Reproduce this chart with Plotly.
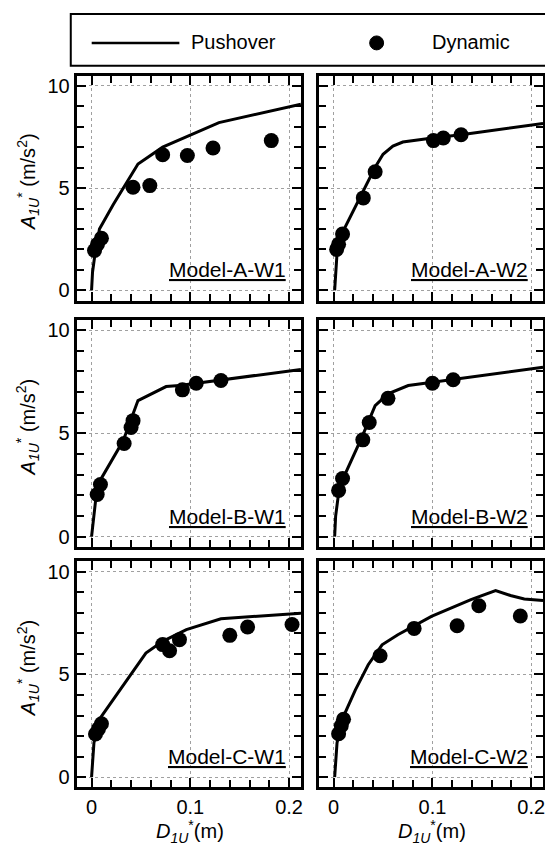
import plotly.graph_objects as go

# ---------------- data ----------------
panel_names = ["Model-A-W1", "Model-A-W2", "Model-B-W1", "Model-B-W2", "Model-C-W1", "Model-C-W2"]

aw1_push_x = [0, 0.001, 0.003, 0.008, 0.022, 0.035, 0.047, 0.072, 0.1, 0.129, 0.212]
aw1_push_y = [0, 0.9, 1.6, 3.0, 4.2, 5.25, 6.18, 7.0, 7.6, 8.2, 9.1]
aw1_dyn_x = [0.003, 0.006, 0.010, 0.042, 0.059, 0.072, 0.097, 0.123, 0.182]
aw1_dyn_y = [1.95, 2.25, 2.55, 5.04, 5.12, 6.63, 6.59, 6.96, 7.32]

aw2_push_x = [0.001, 0.002, 0.0034, 0.010, 0.0285, 0.042, 0.05, 0.06, 0.07, 0.079, 0.1, 0.129, 0.212]
aw2_push_y = [0, 0.9, 1.8, 2.93, 4.72, 6.02, 6.65, 7.05, 7.25, 7.32, 7.45, 7.61, 8.16]
aw2_dyn_x = [0.003, 0.005, 0.009, 0.030, 0.042, 0.101, 0.111, 0.129]
aw2_dyn_y = [2.0, 2.25, 2.75, 4.52, 5.8, 7.32, 7.45, 7.61]

bw1_push_x = [0, 0.002, 0.0044, 0.0084, 0.032, 0.047, 0.0755, 0.089, 0.212]
bw1_push_y = [0, 1.0, 1.88, 2.7, 4.64, 6.59, 7.27, 7.32, 8.1]
bw1_dyn_x = [0.0057, 0.009, 0.033, 0.040, 0.042, 0.092, 0.106, 0.131]
bw1_dyn_y = [2.04, 2.53, 4.51, 5.29, 5.62, 7.11, 7.43, 7.56]

bw2_push_x = [0.001, 0.002, 0.0044, 0.010, 0.0285, 0.042, 0.055, 0.0755, 0.1, 0.212]
bw2_push_y = [0, 1.0, 1.88, 2.86, 4.81, 6.35, 6.92, 7.32, 7.48, 8.21]
bw2_dyn_x = [0.005, 0.009, 0.0295, 0.036, 0.055, 0.1, 0.121]
bw2_dyn_y = [2.24, 2.82, 4.69, 5.53, 6.70, 7.43, 7.60]

cw1_push_x = [0, 0.001, 0.0024, 0.0075, 0.055, 0.072, 0.096, 0.131, 0.212]
cw1_push_y = [0, 0.9, 1.66, 2.79, 6.04, 6.61, 7.18, 7.71, 7.97]
cw1_dyn_x = [0.004, 0.007, 0.010, 0.072, 0.079, 0.089, 0.140, 0.158, 0.203]
cw1_dyn_y = [2.1, 2.35, 2.6, 6.45, 6.15, 6.69, 6.90, 7.31, 7.43]

cw2_push_x = [0.001, 0.002, 0.0034, 0.0084, 0.022, 0.035, 0.049, 0.065, 0.099, 0.139, 0.164, 0.179, 0.193, 0.212]
cw2_push_y = [0, 0.9, 1.66, 2.79, 4.25, 5.47, 6.44, 6.93, 7.82, 8.64, 9.08, 8.84, 8.67, 8.6]
cw2_dyn_x = [0.005, 0.0077, 0.010, 0.047, 0.0815, 0.125, 0.147, 0.189]
cw2_dyn_y = [2.11, 2.5, 2.82, 5.91, 7.24, 7.37, 8.34, 7.84]

x_tick_vals = [0, 0.1, 0.2]
x_tick_text = ["0", "0.1", "0.2"]
y_tick_vals = [0, 5, 10]
y_tick_text = ["0", "5", "10"]

push_series = [(aw1_push_x, aw1_push_y), (aw2_push_x, aw2_push_y), (bw1_push_x, bw1_push_y),
               (bw2_push_x, bw2_push_y), (cw1_push_x, cw1_push_y), (cw2_push_x, cw2_push_y)]
dyn_series = [(aw1_dyn_x, aw1_dyn_y), (aw2_dyn_x, aw2_dyn_y), (bw1_dyn_x, bw1_dyn_y),
              (bw2_dyn_x, bw2_dyn_y), (cw1_dyn_x, cw1_dyn_y), (cw2_dyn_x, cw2_dyn_y)]

# ---------------- layout ----------------
OFF = 8  # page body margin
W, H = 553 - OFF, 845 - OFF
FONT = "Liberation Sans, Arial, sans-serif"


def px_x(v):
    return (v - OFF) / W


def px_y(v):
    return 1 - (v - OFF) / H


col_px = [(77, 302), (320, 545)]
row_px = [(74.75, 300.25), (319.6, 547.3), (561.7, 788.3)]

fig = go.Figure()
layout = dict(
    width=W, height=H, margin=dict(l=0, r=0, t=0, b=0),
    paper_bgcolor="white", plot_bgcolor="white",
    font=dict(family=FONT, size=20, color="black"),
    showlegend=False,
)

annotations = []
shapes = []

for i in range(6):
    r, c = divmod(i, 2)
    n = i + 1
    xa = "xaxis" if n == 1 else f"xaxis{n}"
    ya = "yaxis" if n == 1 else f"yaxis{n}"
    xr = "x" if n == 1 else f"x{n}"
    yr = "y" if n == 1 else f"y{n}"
    x0, x1 = col_px[c]
    t, b = row_px[r]
    common = dict(
        showline=True, linecolor="black", linewidth=3, mirror="allticks",
        ticks="inside", tickcolor="black", tickwidth=2, ticklen=9,
        showgrid=True, gridcolor="#a0a0a0", gridwidth=1, griddash="dot",
        zeroline=False, tickfont=dict(family=FONT, size=20, color="black"),
    )
    layout[xa] = dict(
        common, domain=[px_x(x0), px_x(x1)], anchor=yr, range=[-0.015, 0.212],
        tickmode="array", tickvals=x_tick_vals, ticktext=x_tick_text,
        showticklabels=(r == 2),
        minor=dict(dtick=0.02, tick0=0, ticks="inside", ticklen=7, tickwidth=2,
                   tickcolor="black", showgrid=False),
    )
    layout[ya] = dict(
        common, domain=[px_y(b), px_y(t)], anchor=xr, range=[-0.5, 10.5],
        tickmode="array", tickvals=y_tick_vals, ticktext=y_tick_text,
        showticklabels=(c == 0),
        minor=dict(dtick=1, tick0=0, ticks="inside", ticklen=7, tickwidth=2,
                   tickcolor="black", showgrid=False),
    )
    px_, py_ = push_series[i]
    dx_, dy_ = dyn_series[i]
    fig.add_trace(go.Scatter(x=px_, y=py_, mode="lines", name="Pushover",
                             line=dict(color="black", width=3), xaxis=xr, yaxis=yr))
    fig.add_trace(go.Scatter(x=dx_, y=dy_, mode="markers", name="Dynamic",
                             marker=dict(color="black", size=15), xaxis=xr, yaxis=yr))
    annotations.append(dict(
        x=0.199, y=1.0, xref=xr, yref=yr, xanchor="right", yanchor="middle",
        text=f"<u>{panel_names[i]}</u>", showarrow=False,
        font=dict(family=FONT, size=21, color="black"),
    ))
    if c == 0:
        annotations.append(dict(
            x=px_x(28), y=px_y((t + b) / 2 - 7), xref="paper", yref="paper",
            xanchor="center", yanchor="middle", textangle=-90,
            text="<i>A</i><sub><i>1U</i></sub><sup>*</sup> (m/s<sup>2</sup>)",
            showarrow=False, font=dict(family=FONT, size=20, color="black"),
        ))
    if r == 2:
        annotations.append(dict(
            x=0.1, y=px_y(832), xref=xr, yref="paper",
            xanchor="center", yanchor="middle",
            text="<i>D</i><sub><i>1U</i></sub><sup>*</sup>(m)",
            showarrow=False, font=dict(family=FONT, size=20, color="black"),
        ))

# legend box drawn manually
shapes.append(dict(type="rect", xref="paper", yref="paper",
                   x0=px_x(71), x1=px_x(565), y0=px_y(65), y1=px_y(13),
                   line=dict(color="black", width=2), fillcolor="rgba(0,0,0,0)"))
shapes.append(dict(type="line", xref="paper", yref="paper",
                   x0=px_x(92), x1=px_x(180), y0=px_y(42), y1=px_y(42),
                   line=dict(color="black", width=2.5)))
shapes.append(dict(type="circle", xref="paper", yref="paper",
                   x0=px_x(371), x1=px_x(385), y0=px_y(49), y1=px_y(35),
                   line=dict(color="black", width=1), fillcolor="black"))
annotations.append(dict(x=px_x(190), y=px_y(41), xref="paper", yref="paper",
                        xanchor="left", yanchor="middle", text="Pushover", showarrow=False,
                        font=dict(family=FONT, size=20, color="black")))
annotations.append(dict(x=px_x(432), y=px_y(41), xref="paper", yref="paper",
                        xanchor="left", yanchor="middle", text="Dynamic", showarrow=False,
                        font=dict(family=FONT, size=20, color="black")))

layout["annotations"] = annotations
layout["shapes"] = shapes
fig.update_layout(**layout)

fig.write_html("out.html")
